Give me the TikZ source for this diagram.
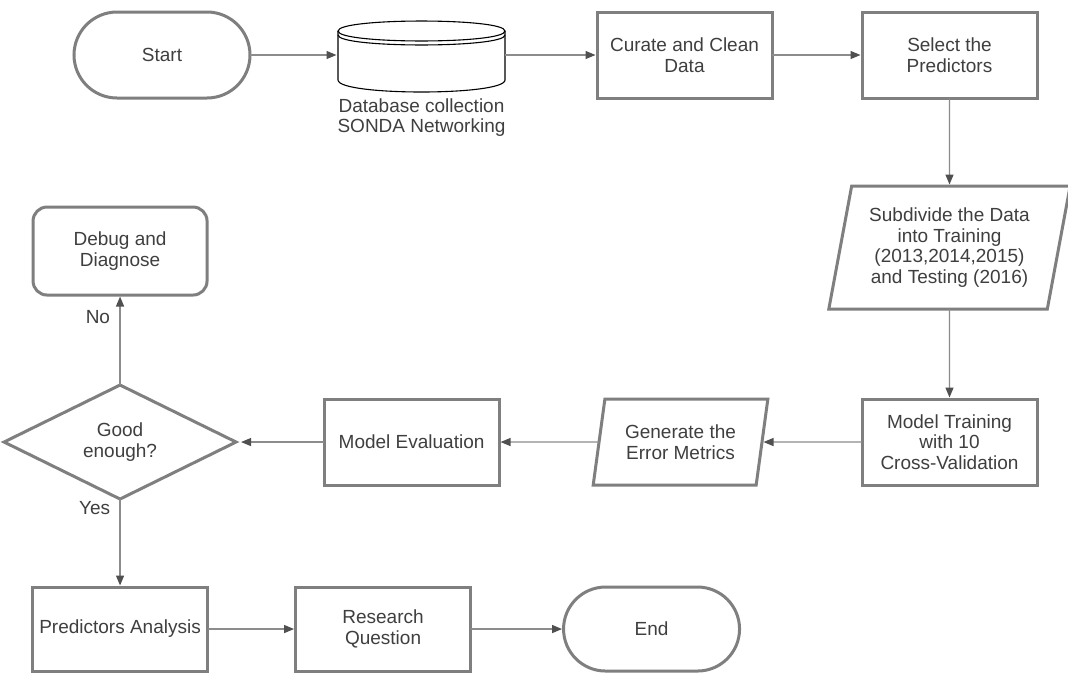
\documentclass[tikz,border=0pt]{standalone}
\usepackage{fontspec}
\setmainfont{Liberation Sans}
\usepackage{xcolor}
\usetikzlibrary{positioning,arrows.meta,shapes.geometric}

\definecolor{boxgray}{HTML}{7F7F7F}
\definecolor{linegray}{HTML}{8C8C8C}
\definecolor{tipgray}{HTML}{505050}
\definecolor{textgray}{HTML}{3F3F3F}

\begin{document}
\begin{tikzpicture}[x=1pt, y=1pt, node distance=88pt and 90pt,
    font=\fontsize{19}{20.5}\selectfont, text=textgray,
    box/.style={draw=boxgray, line width=3pt, rectangle, minimum width=175pt, minimum height=86pt, align=center, inner sep=2pt, outer sep=0pt},
    term/.style={box, rounded corners=43pt, minimum width=176pt},
    io/.style={draw=boxgray, line width=3pt, trapezium, trapezium left angle=77, trapezium right angle=103, trapezium stretches=true, align=center, inner sep=2pt, outer sep=0pt},
    decision/.style={draw=boxgray, line width=3pt, diamond, minimum width=232pt, minimum height=114pt, align=center, inner sep=0pt, outer sep=0pt},
    flow/.style={draw=linegray, line width=1.3pt, shorten >=1.5pt, -{Triangle[length=10pt, width=8pt, color=tipgray]}}]

    \fill[white] (0,0) rectangle (1068,-675);
    \useasboundingbox (0,0) rectangle (1068,-675);

    \node[term] (start) at (162,-55) {Start};
    \node[minimum width=167pt, minimum height=72pt, outer sep=0pt, right=88pt of start] (db) {};
    \node[align=center, below=4pt of db] (dblabel) {Database collection\\SONDA Networking};
    \node[box, right=92pt of db] (curate) {Curate and Clean\\Data};
    \node[box, right=of curate] (select) {Select the\\Predictors};
    \node[io, minimum width=242pt, minimum height=123pt, below=of select] (split) {Subdivide the Data\\into Training\\(2013,2014,2015)\\and Testing (2016)};
    \node[box, below=90pt of split] (train) {Model Training\\with 10\\Cross-Validation};
    \node[io, minimum width=175pt, minimum height=86pt, left=100pt of train] (metrics) {Generate the\\Error Metrics};
    \node[box, left=100pt of metrics] (eval) {Model Evaluation};
    \node[decision, left=88pt of eval] (good) {Good\\enough?};
    \node[term, rounded corners=14pt, minimum width=174pt, minimum height=88pt, above=90pt of good] (debug) {Debug and\\Diagnose};
    \node[box, minimum height=84pt, below=of good] (analysis) {Predictors Analysis};
    \node[box, minimum height=84pt, right=88pt of analysis] (question) {Research\\Question};
    \node[term, minimum height=84pt, rounded corners=42pt, right=93pt of question] (finish) {End};

    % datastore drawn round db
    \begin{scope}[shift={(db.center)}, line width=1.1pt]
      \draw (-83.5,24) .. controls (-83.5,37.3) and (83.5,37.3) .. (83.5,24)
            .. controls (83.5,10.7) and (-83.5,10.7) .. (-83.5,24) -- cycle;
      \draw (-83.5,20) .. controls (-83.5,6.7) and (83.5,6.7) .. (83.5,20);
      \draw (-83.5,24) -- (-83.5,-25) .. controls (-83.5,-41) and (83.5,-41) .. (83.5,-25) -- (83.5,24);
    \end{scope}

    \draw[flow] (start) -- (db);
    \draw[flow] (db) -- (curate);
    \draw[flow] (curate) -- (select);
    \draw[flow] (select) -- (split);
    \draw[flow] (split) -- (train);
    \draw[flow] (train) -- (metrics);
    \draw[flow] (metrics) -- (eval);
    \draw[flow, shorten >=5pt] (eval) -- (good);
    \draw[flow] (good) -- node[pos=0.75, left=6pt] {No} (debug);
    \draw[flow] (good) -- node[pos=0.1, left=6pt] {Yes} (analysis);
    \draw[flow] (analysis) -- (question);
    \draw[flow] (question) -- (finish);
\end{tikzpicture}
\end{document}
